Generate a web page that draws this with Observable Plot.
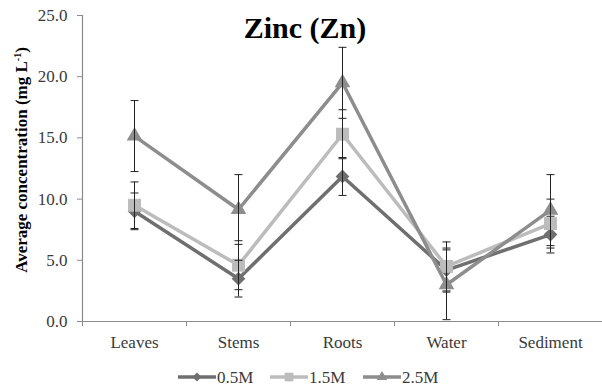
<!DOCTYPE html>
<html>
<head>
<meta charset="utf-8">
<script src="https://cdn.jsdelivr.net/npm/d3@7"></script>
<script src="https://cdn.jsdelivr.net/npm/@observablehq/plot@0.6"></script>
<style>
  html, body { margin: 0; padding: 0; background: #fff; }
  #wrap { width: 602px; height: 389px; }
  svg { display: block; }
</style>
</head>
<body>
<div id="wrap"></div>
<script>
const categories = ["Leaves", "Stems", "Roots", "Water", "Sediment"];
const seriesNames = ["0.5M", "1.5M", "2.5M"];
const values05 = [9.0, 3.5, 11.85, 4.2, 7.1];
const errors05 = [1.5, 1.5, 1.55, 1.8, 1.5];
const values15 = [9.5, 4.6, 15.3, 4.5, 8.0];
const errors15 = [1.9, 2.0, 2.0, 2.0, 2.0];
const values25 = [15.15, 9.15, 19.5, 3.0, 9.1];
const errors25 = [2.9, 2.85, 2.9, 2.85, 2.9];
const yTicks = [0, 5, 10, 15, 20, 25];
const titleText = "Zinc (Zn)";
const yLabelMain = "Average concentration (mg L";
const yLabelSup = "-1";
const yLabelEnd = ")";

const FONT = "'Liberation Serif', 'Times New Roman', Tinos, serif";
const colors = ["#6f6f6f", "#bcbcbc", "#8d8d8d"];
const symbols = ["diamond2", "square", "triangle"];
const radii = [6.2, 7.3, 5.8];

const allValues = [values05, values15, values25];
const allErrors = [errors05, errors15, errors25];
const rows = [];
allValues.forEach((vals, s) => vals.forEach((v, i) => rows.push({
  series: seriesNames[s], s, x: i + 0.5, cat: categories[i], v, e: allErrors[s][i]
})));

const capSymbol = {
  draw(context, size) {
    const w = Math.sqrt(size) / 2;
    context.moveTo(-w, 0);
    context.lineTo(w, 0);
  }
};

const marks = [
  Plot.ruleY([0], {stroke: "#8a8a8a", strokeWidth: 1.2}),
  Plot.ruleX([0], {stroke: "#8a8a8a", strokeWidth: 1.2}),
  Plot.axisY({ticks: yTicks, tickFormat: d => d.toFixed(1), tickSize: 5, tickPadding: 10,
    fontSize: 17, stroke: "#8a8a8a", fill: "#3a3a3a", label: null}),
  Plot.axisX({ticks: [0, 1, 2, 3, 4, 5], tickFormat: () => "", tickSize: 5, stroke: "#8a8a8a", label: null}),
  Plot.axisX({ticks: categories.map((c, i) => i + 0.5), tickFormat: d => categories[Math.floor(d)],
    tickSize: 0, tickPadding: 14, fontSize: 17, fill: "#3a3a3a", label: null})
];
seriesNames.forEach((name, s) => {
  const data = rows.filter(r => r.s === s);
  marks.push(Plot.line(data, {x: "x", y: "v", stroke: colors[s], strokeWidth: 3.5}));
  marks.push(Plot.dot(data, {x: "x", y: "v", symbol: () => symbols[s], fill: colors[s], stroke: "none", r: radii[s]}));
});
marks.push(Plot.ruleX(rows, {x: "x", y1: d => d.v - d.e, y2: d => d.v + d.e, stroke: "#222", strokeWidth: 1}));
marks.push(Plot.dot(rows, {x: "x", y: d => d.v - d.e, symbol: capSymbol, r: 4.5, fill: "none", stroke: "#222", strokeWidth: 1}));
marks.push(Plot.dot(rows, {x: "x", y: d => d.v + d.e, symbol: capSymbol, r: 4.5, fill: "none", stroke: "#222", strokeWidth: 1}));

const chart = Plot.plot({
  width: 602,
  height: 360,
  marginLeft: 82,
  marginRight: 0,
  marginTop: 15,
  marginBottom: 39,
  style: {fontFamily: FONT, background: "#fff", overflow: "visible"},
  x: {type: "linear", domain: [0, 5]},
  y: {domain: [0, 25]},
  symbol: {type: "identity"},
  marks
});

// title and y-axis label as SVG text
const svgSel = d3.select(chart);
svgSel.append("text")
  .attr("x", 305).attr("y", 38)
  .attr("text-anchor", "middle")
  .attr("font-family", FONT).attr("font-size", 30).attr("font-weight", "bold")
  .attr("fill", "#000")
  .text(titleText);
const yl = svgSel.append("text")
  .attr("transform", "translate(27,160) rotate(-90)")
  .attr("text-anchor", "middle")
  .attr("font-family", FONT).attr("font-size", 17).attr("font-weight", "bold")
  .attr("fill", "#000");
yl.append("tspan").text(yLabelMain);
yl.append("tspan").attr("dy", -6).attr("font-size", 10).text(yLabelSup);
yl.append("tspan").attr("dy", 6).text(yLabelEnd);

document.getElementById("wrap").appendChild(chart);

// legend below the chart
const legend = d3.create("svg").attr("width", 602).attr("height", 29)
  .attr("font-family", FONT).attr("font-size", 17);
const symMap = {"diamond2": d3.symbolDiamond2, "square": d3.symbolSquare, "triangle": d3.symbolTriangle};
const itemX = [178, 270, 363];
seriesNames.forEach((name, s) => {
  const g = legend.append("g").attr("transform", `translate(${itemX[s]},17)`);
  g.append("line").attr("x1", 0).attr("x2", 38).attr("y1", 0).attr("y2", 0)
    .attr("stroke", colors[s]).attr("stroke-width", 3.5);
  const sz = radii[s] * radii[s] * Math.PI * 0.45;
  g.append("path").attr("d", d3.symbol(symMap[symbols[s]], sz)()).attr("transform", "translate(19,0)")
    .attr("fill", colors[s]);
  g.append("text").attr("x", 39).attr("y", 5.5).attr("fill", "#3a3a3a").text(name);
});
document.getElementById("wrap").appendChild(legend.node());
</script>
</body>
</html>
